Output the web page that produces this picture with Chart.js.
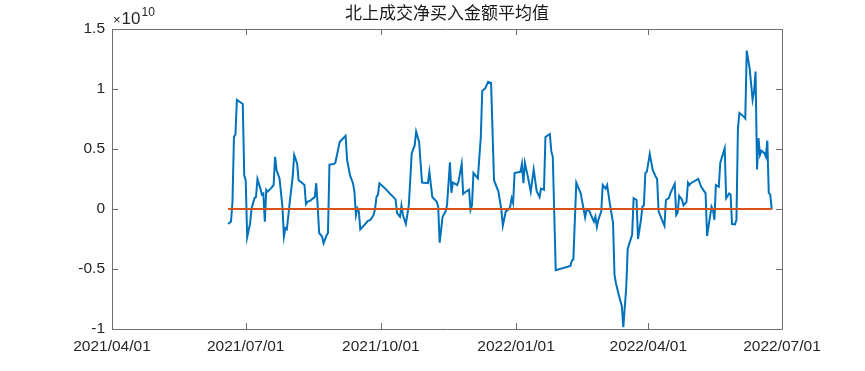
<!DOCTYPE html>
<html>
<head>
<meta charset="utf-8">
<script src="https://cdn.jsdelivr.net/npm/chart.js@4/dist/chart.umd.min.js"></script>
<style>
  html, body { margin: 0; padding: 0; background: #ffffff; }
  #wrap { width: 865px; height: 371px; position: relative; }
</style>
</head>
<body>
<div id="wrap"><canvas id="c" width="865" height="371"></canvas></div>
<script>
// ---- data (values in units of 1e10) ----
const chartTitle = "北上成交净买入金额平均值";
const dates = [
  "2021-06-19","2021-06-21","2021-06-22","2021-06-23","2021-06-24","2021-06-25","2021-06-29","2021-06-30",
  "2021-07-01","2021-07-02","2021-07-04","2021-07-05","2021-07-07","2021-07-08","2021-07-09","2021-07-11",
  "2021-07-12","2021-07-13","2021-07-14","2021-07-15","2021-07-16","2021-07-18","2021-07-20","2021-07-21",
  "2021-07-22","2021-07-24","2021-07-26","2021-07-27","2021-07-28","2021-07-29","2021-07-31",
  "2021-08-02","2021-08-03","2021-08-05","2021-08-06","2021-08-08","2021-08-10","2021-08-11","2021-08-12",
  "2021-08-14","2021-08-17","2021-08-18","2021-08-19","2021-08-20","2021-08-22","2021-08-23","2021-08-25",
  "2021-08-26","2021-08-27","2021-08-30","2021-08-31",
  "2021-09-03","2021-09-07","2021-09-08","2021-09-10","2021-09-12","2021-09-13","2021-09-14","2021-09-15",
  "2021-09-16","2021-09-17","2021-09-20","2021-09-22","2021-09-24","2021-09-26","2021-09-27","2021-09-28",
  "2021-09-29","2021-09-30",
  "2021-10-04","2021-10-07","2021-10-11","2021-10-12","2021-10-14","2021-10-15","2021-10-16","2021-10-18",
  "2021-10-20","2021-10-22","2021-10-24","2021-10-25","2021-10-27","2021-10-28","2021-10-29",
  "2021-11-02","2021-11-03","2021-11-05","2021-11-08","2021-11-09","2021-11-10","2021-11-12","2021-11-14",
  "2021-11-15","2021-11-17","2021-11-18","2021-11-19","2021-11-22","2021-11-23","2021-11-25","2021-11-26",
  "2021-11-28","2021-11-30",
  "2021-12-01","2021-12-02","2021-12-03","2021-12-06","2021-12-08","2021-12-09","2021-12-11","2021-12-13",
  "2021-12-15","2021-12-17","2021-12-20","2021-12-22","2021-12-23","2021-12-25","2021-12-27","2021-12-28",
  "2021-12-29","2021-12-30","2021-12-31",
  "2022-01-04","2022-01-05","2022-01-06","2022-01-07","2022-01-09","2022-01-11","2022-01-13","2022-01-15",
  "2022-01-17","2022-01-18","2022-01-20","2022-01-21","2022-01-24","2022-01-25","2022-01-26","2022-01-28",
  "2022-02-07","2022-02-08","2022-02-09","2022-02-11","2022-02-14","2022-02-16","2022-02-17","2022-02-18",
  "2022-02-20","2022-02-21","2022-02-23","2022-02-24","2022-02-25","2022-02-26","2022-02-28",
  "2022-03-01","2022-03-03","2022-03-04","2022-03-06","2022-03-08","2022-03-09","2022-03-10","2022-03-12",
  "2022-03-14","2022-03-15","2022-03-17","2022-03-18","2022-03-21","2022-03-22","2022-03-24","2022-03-25",
  "2022-03-27","2022-03-28","2022-03-29","2022-03-30","2022-03-31",
  "2022-04-02","2022-04-04","2022-04-06","2022-04-07","2022-04-08","2022-04-10","2022-04-12","2022-04-13",
  "2022-04-15","2022-04-16","2022-04-19","2022-04-20","2022-04-21","2022-04-22","2022-04-24","2022-04-25",
  "2022-04-27","2022-04-28","2022-04-29","2022-04-30",
  "2022-05-05","2022-05-07","2022-05-10","2022-05-11","2022-05-13","2022-05-14","2022-05-15","2022-05-16",
  "2022-05-17","2022-05-19","2022-05-20","2022-05-23","2022-05-24","2022-05-26","2022-05-27","2022-05-28",
  "2022-05-30","2022-05-31",
  "2022-06-01","2022-06-02","2022-06-05","2022-06-06","2022-06-07","2022-06-09","2022-06-11","2022-06-12",
  "2022-06-13","2022-06-14","2022-06-15","2022-06-16","2022-06-17","2022-06-19","2022-06-20","2022-06-21",
  "2022-06-22","2022-06-23","2022-06-24"
];
const netBuyAvg = [
  -0.125,-0.105,0.06,0.60,0.62,0.91,0.875,0.28,
  0.24,-0.236,-0.12,0.006,0.09,0.10,0.25,0.17,
  0.12,0.13,-0.105,0.16,0.145,0.17,0.20,0.435,
  0.325,0.255,0.02,-0.23,-0.16,-0.17,0.06,
  0.27,0.45,0.38,0.24,0.22,0.20,0.04,0.06,
  0.07,0.10,0.215,0.02,-0.20,-0.23,-0.285,-0.22,
  -0.20,0.37,0.375,0.385,
  0.56,0.61,0.41,0.28,0.215,0.145,-0.05,0.006,
  -0.02,-0.17,-0.13,-0.10,-0.09,-0.05,-0.003,0.10,
  0.12,0.215,
  0.17,0.13,0.08,-0.035,-0.065,0.03,-0.05,-0.125,
  0.03,0.465,0.53,0.645,0.56,0.39,0.22,
  0.215,0.31,0.10,0.06,0.02,-0.28,-0.065,-0.02,
  0.03,0.39,0.135,0.22,0.20,0.24,0.375,0.125,
  0.145,0.16,
  -0.008,0.03,0.30,0.255,0.60,0.985,1.005,1.06,
  1.05,0.24,0.145,-0.008,-0.14,-0.02,-0.003,0.02,
  0.09,0.05,0.30,
  0.31,0.375,0.215,0.385,0.27,0.145,0.33,0.15,
  0.10,0.17,0.16,0.60,0.625,0.48,0.435,-0.51,
  -0.475,-0.43,-0.42,0.22,0.13,-0.003,-0.07,-0.003,
  -0.02,-0.05,-0.105,-0.065,-0.15,-0.09,-0.02,
  0.20,0.17,0.20,0.03,-0.115,-0.55,-0.62,-0.72,
  -0.81,-0.985,-0.65,-0.33,-0.215,0.09,0.075,-0.25,
  -0.09,0.02,0.03,0.30,0.31,
  0.46,0.325,0.27,0.25,-0.02,-0.08,-0.14,0.075,
  0.09,0.13,0.21,-0.05,-0.03,0.11,0.075,0.03,
  0.06,0.22,0.20,0.215,
  0.25,0.185,0.13,-0.225,-0.065,0.02,-0.008,-0.09,
  0.20,0.185,0.385,0.505,0.09,0.13,0.12,-0.125,
  -0.128,-0.09,
  0.67,0.80,0.77,0.755,1.32,1.17,0.91,0.98,
  1.145,0.33,0.59,0.45,0.485,0.465,0.435,0.57,
  0.135,0.12,-0.003
];
const zeroLine = dates.map(() => 0);
const xTickDates = ["2021-04-01","2021-07-01","2021-10-01","2022-01-01","2022-04-01","2022-07-01"];
const xTickLabels = ["2021/04/01","2021/07/01","2021/10/01","2022/01/01","2022/04/01","2022/07/01"];
const yTickValues = [-1, -0.5, 0, 0.5, 1, 1.5];
const yTickLabels = ["-1", "-0.5", "0", "0.5", "1", "1.5"];
const yExponent = "10";

// ---- helpers ----
function dayNum(s) {
  const p = s.split("-").map(Number);
  return Date.UTC(p[0], p[1] - 1, p[2]) / 86400000;
}
const xMin = dayNum(xTickDates[0]);
const xMax = dayNum(xTickDates[xTickDates.length - 1]);

const FONT = "'Liberation Sans', Arial, Helvetica, sans-serif";
const AXIS_COLOR = "#6e6e6e";
const TEXT_COLOR = "#262626";
const TICK_LEN = 6;

const boxPlugin = {
  id: 'matlabBox',
  afterDraw(chart) {
    const ctx = chart.ctx;
    const a = chart.chartArea;
    const xs = chart.scales.x, ys = chart.scales.y;
    ctx.save();
    ctx.strokeStyle = AXIS_COLOR;
    ctx.lineWidth = 1;
    ctx.beginPath();
    ctx.rect(Math.round(a.left) + 0.5, Math.round(a.top) + 0.5, Math.round(a.right - a.left), Math.round(a.bottom - a.top));
    ctx.stroke();
    ctx.beginPath();
    xs.ticks.forEach(t => {
      const px = Math.round(xs.getPixelForValue(t.value)) + 0.5;
      ctx.moveTo(px, a.bottom); ctx.lineTo(px, a.bottom - TICK_LEN);
      ctx.moveTo(px, a.top); ctx.lineTo(px, a.top + TICK_LEN);
    });
    ys.ticks.forEach(t => {
      const py = Math.round(ys.getPixelForValue(t.value)) + 0.5;
      ctx.moveTo(a.left, py); ctx.lineTo(a.left + TICK_LEN, py);
      ctx.moveTo(a.right, py); ctx.lineTo(a.right - TICK_LEN, py);
    });
    ctx.stroke();
    // exponent label
    ctx.fillStyle = TEXT_COLOR;
    ctx.textAlign = 'left';
    ctx.textBaseline = 'alphabetic';
    ctx.font = "13px " + FONT;
    const times = "\u00d7";
    ctx.fillText(times, a.left + 1, a.top - 5);
    const wt = ctx.measureText(times).width;
    ctx.font = "17px " + FONT;
    ctx.fillText("10", a.left + 1 + wt + 1, a.top - 5);
    const w10 = ctx.measureText("10").width;
    ctx.font = "12px " + FONT;
    ctx.fillText(yExponent, a.left + 1 + wt + 1 + w10 + 1, a.top - 13);
    // title
    ctx.font = "17px 'Noto Sans CJK SC', sans-serif";
    ctx.textAlign = 'center';
    ctx.textBaseline = 'middle';
    ctx.fillStyle = "#1a1a1a";
    ctx.fillText(chartTitle, (a.left + a.right) / 2, 13);
    ctx.restore();
  }
};

new Chart(document.getElementById('c'), {
  type: 'line',
  data: {
    datasets: [
      {
        label: 'net',
        data: dates.map((d, i) => ({ x: dayNum(d), y: netBuyAvg[i] })),
        borderColor: '#0072BD',
        borderWidth: 2,
        pointRadius: 0,
        tension: 0,
        fill: false,
        order: 2
      },
      {
        label: 'zero',
        data: dates.map((d, i) => ({ x: dayNum(d), y: zeroLine[i] })),
        borderColor: '#D95319',
        borderWidth: 2,
        pointRadius: 0,
        tension: 0,
        fill: false,
        order: 1
      }
    ]
  },
  options: {
    responsive: false,
    animation: false,
    events: [],
    layout: { padding: { left: 0, right: 83, top: 29, bottom: 0 } },
    plugins: { legend: { display: false }, title: { display: false }, tooltip: { enabled: false } },
    scales: {
      x: {
        type: 'linear',
        min: xMin, max: xMax,
        grid: { display: false, drawTicks: false },
        border: { display: false },
        afterBuildTicks: (s) => { s.ticks = xTickDates.map(d => ({ value: dayNum(d) })); },
        afterFit: (s) => { s.height = 42; },
        ticks: {
          autoSkip: false, maxRotation: 0, minRotation: 0, padding: 8,
          color: TEXT_COLOR, font: { family: FONT, size: 15.5 },
          callback: (v, i) => xTickLabels[i]
        }
      },
      y: {
        type: 'linear',
        min: yTickValues[0], max: yTickValues[yTickValues.length - 1],
        grid: { display: false, drawTicks: false },
        border: { display: false },
        afterBuildTicks: (s) => { s.ticks = yTickValues.map(v => ({ value: v })); },
        afterFit: (s) => { s.width = 112; },
        ticks: {
          autoSkip: false, padding: 7,
          color: TEXT_COLOR, font: { family: FONT, size: 15.5 },
          callback: (v, i) => yTickLabels[i]
        }
      }
    }
  },
  plugins: [boxPlugin]
});
</script>
</body>
</html>
